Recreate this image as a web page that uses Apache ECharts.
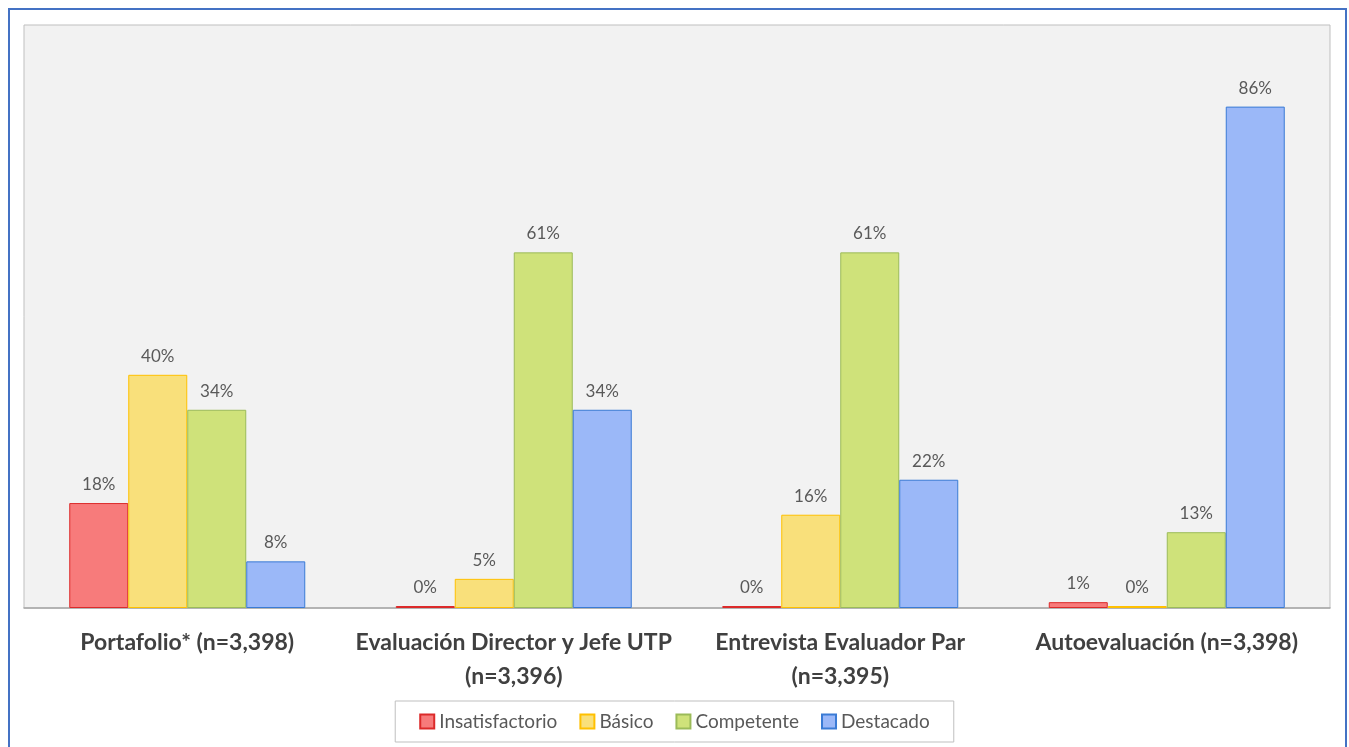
<!DOCTYPE html>
<html>
<head>
<meta charset="utf-8">
<script src="https://cdn.jsdelivr.net/npm/echarts@6/dist/echarts.min.js"></script>
<style>
  html, body { margin: 0; padding: 0; background: #ffffff; }
  #chart { width: 1349px; height: 747px; }
</style>
</head>
<body>
<div id="chart"></div>
<script>
// Instrument categories (sample size in parentheses)
const categories = [
  'Portafolio* (n=3,398)',
  'Evaluación Director y Jefe UTP\n(n=3,396)',
  'Entrevista Evaluador Par\n(n=3,395)',
  'Autoevaluación (n=3,398)'
];

// Percentage of teachers in each performance level
const insatisfactorio = [18, 0, 0, 1];
const basico          = [40, 5, 16, 0];
const competente      = [34, 61, 61, 13];
const destacado       = [8, 34, 22, 86];

const seriesDefs = [
  { name: 'Insatisfactorio', data: insatisfactorio, fill: '#f77b7b', line: '#dc2a2a' },
  { name: 'Básico',          data: basico,          fill: '#f9e07b', line: '#ffc000' },
  { name: 'Competente',      data: competente,      fill: '#cfe27a', line: '#9bbb59' },
  { name: 'Destacado',       data: destacado,       fill: '#9bb8f8', line: '#3a7bd5' }
];

const FONT = 'Lato, "Open Sans", sans-serif';

const chart = echarts.init(document.getElementById('chart'), null, { renderer: 'canvas' });

chart.setOption({
  animation: false,
  backgroundColor: '#ffffff',
  graphic: [{
    type: 'rect',
    shape: { x: 9, y: 9, width: 1337, height: 780 },
    style: { fill: 'none', stroke: '#4472c4', lineWidth: 2 },
    silent: true,
    z: -1
  }],
  grid: {
    left: 24, right: 19, top: 25, bottom: 139,
    show: true,
    backgroundColor: '#f2f2f2',
    borderColor: '#bfbfbf',
    borderWidth: 1,
    outerBoundsMode: 'none'
  },
  legend: {
    bottom: 5,
    left: 'center',
    padding: [11, 24, 11, 24],
    borderColor: '#bfbfbf',
    borderWidth: 1,
    itemWidth: 14,
    itemHeight: 14,
    itemGap: 22,
    icon: 'rect',
    textStyle: { color: '#595959', fontSize: 19, fontFamily: FONT }
  },
  xAxis: {
    type: 'category',
    data: categories,
    axisLine: { lineStyle: { color: '#a6a6a6', width: 1.5 } },
    axisTick: { show: false },
    axisLabel: {
      color: '#404040',
      fontSize: 23,
      fontWeight: 'bold',
      fontFamily: FONT,
      lineHeight: 34,
      margin: 18,
      interval: 0
    }
  },
  yAxis: {
    type: 'value',
    min: 0,
    max: 100,
    show: false,
    splitLine: { show: false }
  },
  series: seriesDefs.map(s => ({
    name: s.name,
    type: 'bar',
    data: s.data,
    barWidth: 59,
    barGap: '0%',
    barMinHeight: 2,
    itemStyle: { color: s.fill, borderColor: s.line, borderWidth: 1 },
    label: {
      show: true,
      position: 'top',
      distance: 10,
      formatter: p => p.value + '%',
      color: '#595959',
      fontSize: 17,
      fontFamily: FONT
    }
  }))
});
</script>
</body>
</html>
